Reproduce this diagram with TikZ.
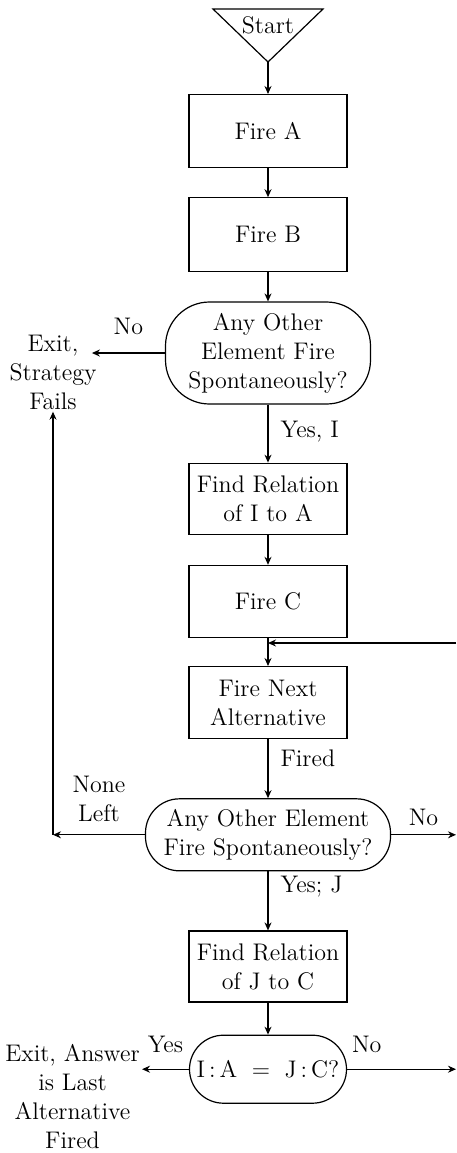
\documentclass[tikz,border=0pt,12pt]{standalone}
\usepackage{tikz}
\usetikzlibrary{arrows.meta, positioning, calc}

\begin{document}
\begin{tikzpicture}[
    node distance=15pt,
    box/.style={rectangle, draw, semithick, minimum width=79pt, minimum height=36pt, align=center, inner sep=1pt},
    decide/.style={rectangle, draw, semithick, rounded corners=#1, align=center, inner sep=0pt},
    decide/.default=17pt,
    exitlbl/.style={align=center, inner sep=1pt},
    arrow/.style={-{Stealth[length=4pt, width=3.5pt]}, semithick}
]
\useasboundingbox (0,0) rectangle (228pt,-576.5pt);
% start marker
\coordinate (apex) at (134pt,-31pt);
\draw[semithick] (apex) -- ++(-27.5pt,26.5pt) -- ++(55pt,0) -- cycle;
\node (start) at (134pt,-12.5pt) {Start};
% main column
\node[box, below=16pt of apex, minimum height=36.5pt] (fa) {Fire A};
\node[box, below=14.5pt of fa, minimum height=37pt] (fb) {Fire B};
\node[decide=22pt, below=14.5pt of fb, minimum width=102.5pt, minimum height=51pt] (d1) {Any Other\\Element Fire\\Spontaneously?};
\node[box, below=29pt of d1, minimum height=35.5pt] (fi) {Find Relation\\of I to A};
\node[box, below=15pt of fi] (fc) {Fire C};
\node[box, below=14pt of fc] (fn) {Fire Next\\Alternative};
\node[decide, below=29.5pt of fn, minimum width=122.5pt, minimum height=36pt] (d2) {Any Other Element\\Fire Spontaneously?};
\node[box, below=29.5pt of d2, minimum height=35.5pt] (fj) {Find Relation\\of J to C};
\node[decide, below=16pt of fj, minimum width=78.5pt, minimum height=34pt] (d3) {I\,:\,A \;$=$\; J\,:\,C?};
% exits
\node[exitlbl] (ex1) at (26.5pt,-186pt) {Exit,\\Strategy\\Fails};
\node[exitlbl] (ex2) at (36.25pt,-548.5pt) {Exit, Answer\\is Last\\Alternative\\Fired};
\coordinate (ex1in) at ($(d1.west)+(-36.5pt,0)$);
\coordinate (loopin) at (228pt,-321.5pt);
\coordinate (corner) at (ex1.south |- d2.west);
\coordinate (out2) at (loopin |- d2.east);
\coordinate (out3) at (loopin |- d3.east);
% connectors
\draw[arrow] (apex) -- (fa);
\draw[arrow] (fa) -- (fb);
\draw[arrow] (fb) -- (d1);
\draw[arrow] (d1) -- node[above=5pt] {No} (ex1in);
\draw[arrow] (d1) -- node[right=2pt, pos=0.47] {Yes, I} (fi);
\draw[arrow] (fi) -- (fc);
\draw[arrow] (fc) -- (fn);
\draw[arrow] (loopin) -- (loopin -| fc.south);
\draw[arrow] (fn) -- node[right=2pt, pos=0.32] {Fired} (d2);
\draw[arrow] (d2) -- node[above=2pt, align=center] {None\\Left} (corner);
\draw[arrow] (corner) -- (ex1);
\draw[arrow] (d2) -- node[above] {No} (out2);
\draw[arrow] (d2) -- node[right=2pt, pos=0.25] {Yes; J} (fj);
\draw[arrow] (fj) -- (d3);
\draw[arrow] (d3) -- node[above=4pt] {Yes} (ex2.east |- d3.west);
\draw[arrow] (d3) -- node[above=4pt, pos=0.18] {No} (out3);
\end{tikzpicture}
\end{document}
